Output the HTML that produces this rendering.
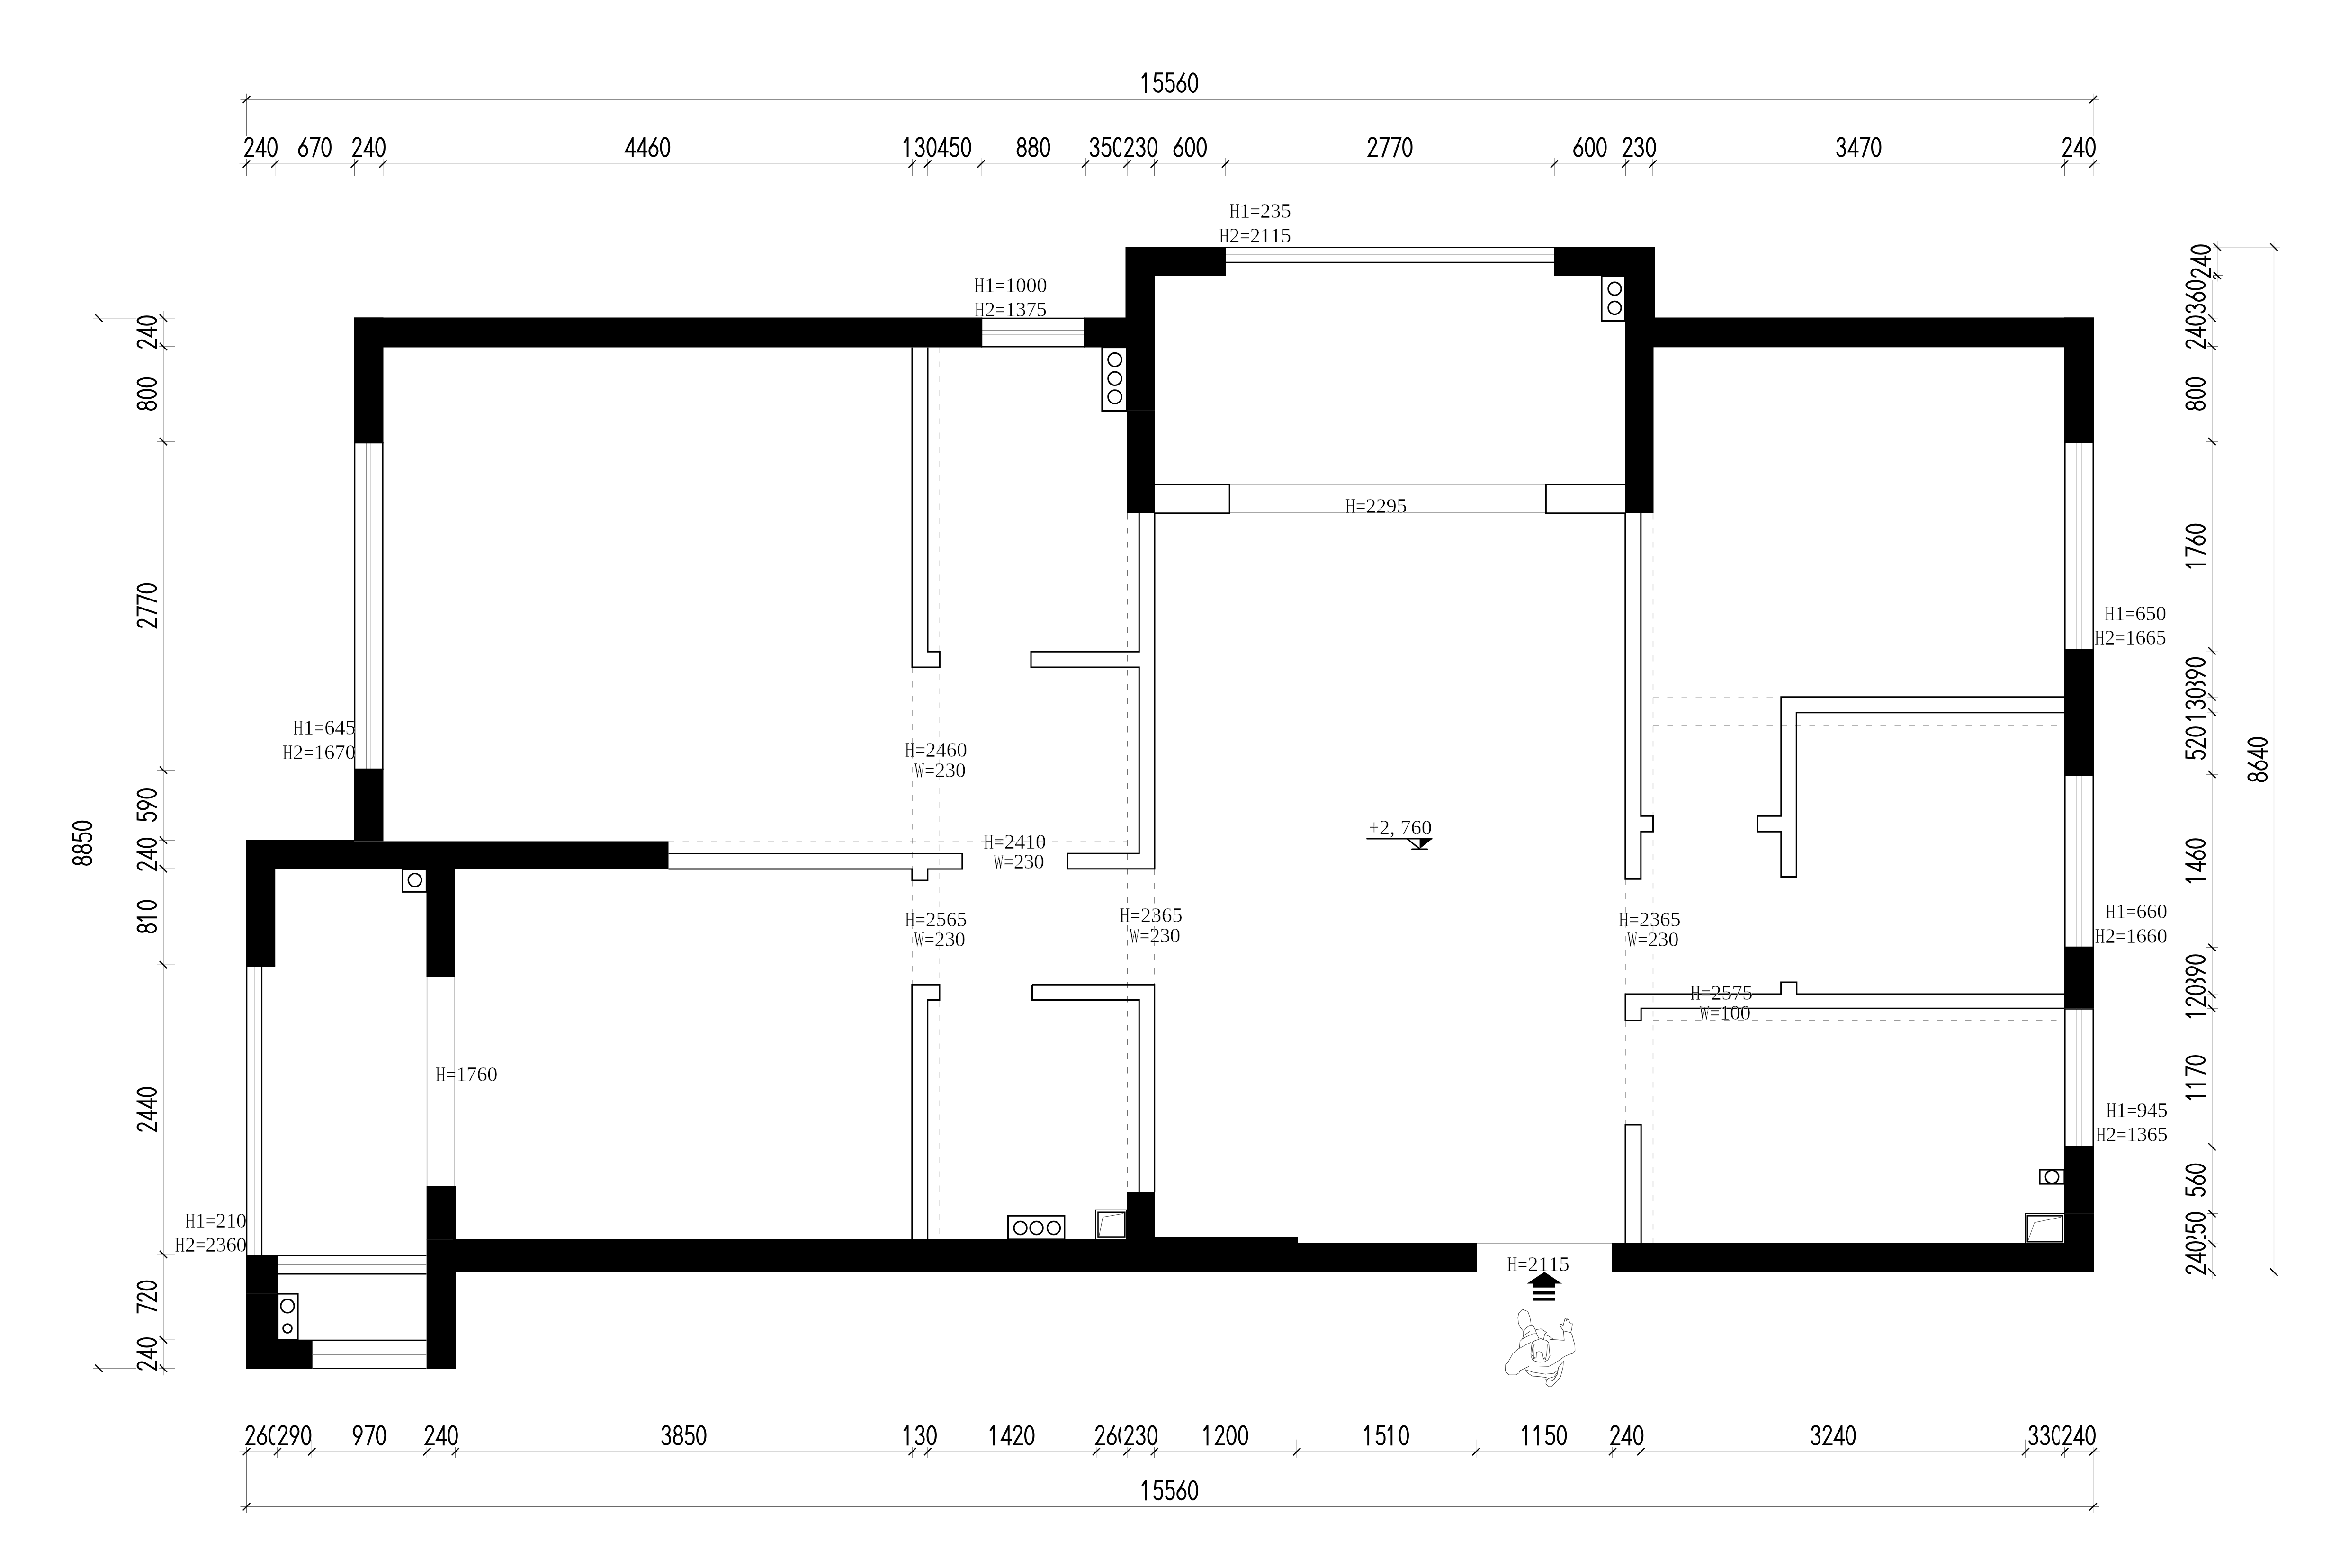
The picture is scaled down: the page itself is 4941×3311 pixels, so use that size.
<!DOCTYPE html><html><head><meta charset="utf-8"><style>html,body{margin:0;padding:0;background:#fff;overflow:hidden} svg{filter:grayscale(1)}</style></head><body><svg width="4941" height="3311" viewBox="0 0 4941 3311" style="display:block"><rect x="0" y="0" width="4941" height="3311" fill="#fff"/><rect x="0.5" y="0.5" width="4940" height="3310" fill="none" stroke="#666" stroke-width="1"/><g fill="none" stroke="#707070" stroke-width="1.2" stroke-dasharray="12.5 17.5">
<line x1="1926" y1="1409" x2="1926" y2="2079"/>
<line x1="1984.4" y1="733.5" x2="1984.4" y2="2617"/>
<line x1="2380.4" y1="1084" x2="2380.4" y2="2517"/>
<line x1="1411.5" y1="1777.3" x2="2380.4" y2="1777.3"/>
<line x1="2031.8" y1="1835" x2="2254.5" y2="1835"/>
<line x1="2437.8" y1="1835" x2="2437.8" y2="2079"/>
<line x1="3490.5" y1="1084" x2="3490.5" y2="2625"/>
<line x1="3432" y1="1856" x2="3432" y2="2375"/>
</g>
<g fill="none" stroke="#9a9a9a" stroke-width="1.3" stroke-dasharray="12.5 17.5">
<line x1="3490.5" y1="1471.8" x2="3760.8" y2="1471.8"/>
<line x1="3490.5" y1="1532" x2="4359" y2="1532"/>
<line x1="3490" y1="2154.6" x2="4359" y2="2154.6"/>
</g>
<g fill="#000">
<rect x="747.5" y="670.5" width="1324.5" height="63"/>
<rect x="2291" y="670.5" width="87" height="63"/>
<rect x="747.5" y="670.5" width="62" height="263.5"/>
<rect x="747.5" y="1625" width="62" height="151.5"/>
<rect x="519.5" y="1773.5" width="228.5" height="62.5"/>
<rect x="747.5" y="1776.5" width="664" height="59.5"/>
<rect x="2376.5" y="521" width="62.5" height="212"/>
<rect x="2379" y="733" width="60" height="351"/>
<rect x="2377" y="521" width="212" height="62"/>
<rect x="3281" y="521" width="213.5" height="61.5"/>
<rect x="3431" y="521" width="63.5" height="212"/>
<rect x="3431" y="733" width="60.5" height="351"/>
<rect x="3431" y="670.5" width="990" height="62.8"/>
<rect x="4359" y="670.5" width="62" height="262.8"/>
<rect x="4359" y="1373" width="62" height="263.3"/>
<rect x="4359" y="2001" width="62" height="128.6"/>
<rect x="4359" y="2422" width="62" height="264.5"/>
<rect x="3404" y="2625" width="1017" height="61.5"/>
<rect x="2740" y="2625" width="378.4" height="61.5"/>
<rect x="962" y="2617" width="1418" height="69.5"/>
<rect x="2380" y="2613" width="360" height="73.5"/>
<rect x="2379" y="2517" width="59" height="100"/>
<rect x="519.5" y="1773.5" width="61.7" height="265.5"/>
<rect x="519.6" y="2650" width="66.9" height="241"/>
<rect x="519.6" y="2829.5" width="140.1" height="61.5"/>
<rect x="900.5" y="1836" width="59.5" height="227"/>
<rect x="900.7" y="2504" width="61.5" height="387"/>
</g>
<g stroke="#303030" stroke-width="1">
<line x1="750" y1="732.5" x2="806.5" y2="732.5"/>
<line x1="2379" y1="732.5" x2="2439" y2="732.5"/>
<line x1="2379" y1="867" x2="2439" y2="867"/>
<line x1="3431" y1="732.5" x2="3492" y2="732.5"/>
<line x1="4359" y1="732.5" x2="4421" y2="732.5"/>
<line x1="4359" y1="2562" x2="4421" y2="2562"/>
<line x1="520.5" y1="2732" x2="586.5" y2="2732"/>
<line x1="520.5" y1="2829.5" x2="586.5" y2="2829.5"/>
<line x1="900.7" y1="2618" x2="957" y2="2618"/>
</g>
<g fill="none">
<line x1="2072" y1="672" x2="2291" y2="672" stroke="#000" stroke-width="2.6"/>
<line x1="2072" y1="732.2" x2="2291" y2="732.2" stroke="#000" stroke-width="2.6"/>
<line x1="2072" y1="697.3" x2="2291" y2="697.3" stroke="#8a8a8a" stroke-width="1.3"/>
<line x1="2072" y1="707.2" x2="2291" y2="707.2" stroke="#8a8a8a" stroke-width="1.3"/>
<line x1="2073" y1="670.5" x2="2073" y2="733.5" stroke="#000" stroke-width="2.4"/>
<line x1="2290" y1="670.5" x2="2290" y2="733.5" stroke="#000" stroke-width="2.4"/>
<line x1="749" y1="934" x2="749" y2="1625" stroke="#000" stroke-width="2.6"/>
<line x1="808.3" y1="934" x2="808.3" y2="1625" stroke="#000" stroke-width="2.6"/>
<line x1="773.4" y1="934" x2="773.4" y2="1625" stroke="#8a8a8a" stroke-width="1.3"/>
<line x1="783.3" y1="934" x2="783.3" y2="1625" stroke="#8a8a8a" stroke-width="1.3"/>
<line x1="747.5" y1="935" x2="809.5" y2="935" stroke="#000" stroke-width="2.4"/>
<line x1="747.5" y1="1624" x2="809.5" y2="1624" stroke="#000" stroke-width="2.4"/>
<line x1="2589" y1="522.6" x2="3281" y2="522.6" stroke="#000" stroke-width="2.6"/>
<line x1="2589" y1="554" x2="3281" y2="554" stroke="#000" stroke-width="2.6"/>
<line x1="2589" y1="537" x2="3281" y2="537" stroke="#a8a8a8" stroke-width="1.5"/>
<line x1="4360.3" y1="933.3" x2="4360.3" y2="1373" stroke="#000" stroke-width="2.6"/>
<line x1="4419.8" y1="933.3" x2="4419.8" y2="1373" stroke="#000" stroke-width="2.6"/>
<line x1="4385.2" y1="933.3" x2="4385.2" y2="1373" stroke="#a8a8a8" stroke-width="1.5"/>
<line x1="4394.8" y1="933.3" x2="4394.8" y2="1373" stroke="#a8a8a8" stroke-width="1.5"/>
<line x1="4359" y1="934.3" x2="4421" y2="934.3" stroke="#000" stroke-width="2.4"/>
<line x1="4359" y1="1372" x2="4421" y2="1372" stroke="#000" stroke-width="2.4"/>
<line x1="4360.3" y1="1636.3" x2="4360.3" y2="2001" stroke="#000" stroke-width="2.6"/>
<line x1="4419.8" y1="1636.3" x2="4419.8" y2="2001" stroke="#000" stroke-width="2.6"/>
<line x1="4385.2" y1="1636.3" x2="4385.2" y2="2001" stroke="#a8a8a8" stroke-width="1.5"/>
<line x1="4394.8" y1="1636.3" x2="4394.8" y2="2001" stroke="#a8a8a8" stroke-width="1.5"/>
<line x1="4359" y1="1637.3" x2="4421" y2="1637.3" stroke="#000" stroke-width="2.4"/>
<line x1="4359" y1="2000" x2="4421" y2="2000" stroke="#000" stroke-width="2.4"/>
<line x1="4360.3" y1="2129.6" x2="4360.3" y2="2422" stroke="#000" stroke-width="2.6"/>
<line x1="4419.8" y1="2129.6" x2="4419.8" y2="2422" stroke="#000" stroke-width="2.6"/>
<line x1="4385.2" y1="2129.6" x2="4385.2" y2="2422" stroke="#a8a8a8" stroke-width="1.5"/>
<line x1="4394.8" y1="2129.6" x2="4394.8" y2="2422" stroke="#a8a8a8" stroke-width="1.5"/>
<line x1="4359" y1="2130.6" x2="4421" y2="2130.6" stroke="#000" stroke-width="2.4"/>
<line x1="4359" y1="2421" x2="4421" y2="2421" stroke="#000" stroke-width="2.4"/>
<line x1="521" y1="2039" x2="521" y2="2650" stroke="#000" stroke-width="2.6"/>
<line x1="552.8" y1="2039" x2="552.8" y2="2650" stroke="#000" stroke-width="2.6"/>
<line x1="538.2" y1="2039" x2="538.2" y2="2650" stroke="#a8a8a8" stroke-width="1.5"/>
<line x1="519.5" y1="2040" x2="581.2" y2="2040" stroke="#000" stroke-width="2.4"/>
<line x1="586.5" y1="2651.2" x2="900.5" y2="2651.2" stroke="#000" stroke-width="2.6"/>
<line x1="586.5" y1="2690.3" x2="900.5" y2="2690.3" stroke="#000" stroke-width="2.6"/>
<line x1="586.5" y1="2670.5" x2="900.5" y2="2670.5" stroke="#8a8a8a" stroke-width="1.3"/>
<line x1="586.5" y1="2830" x2="900.5" y2="2830" stroke="#000" stroke-width="2.6"/>
<line x1="659.7" y1="2889.8" x2="900.5" y2="2889.8" stroke="#000" stroke-width="2.6"/>
<line x1="659.7" y1="2860.3" x2="900.5" y2="2860.3" stroke="#8a8a8a" stroke-width="1.3"/>
<line x1="901.6" y1="2063" x2="901.6" y2="2504" stroke="#8a8a8a" stroke-width="1.4"/>
<line x1="958.8" y1="2063" x2="958.8" y2="2504" stroke="#8a8a8a" stroke-width="1.4"/>
<line x1="2596" y1="1023" x2="3264.4" y2="1023" stroke="#a8a8a8" stroke-width="1.6"/>
<line x1="2596" y1="1083" x2="3264.4" y2="1083" stroke="#8a8a8a" stroke-width="1.4"/>
<line x1="3118.4" y1="2625.2" x2="3403.8" y2="2625.2" stroke="#a8a8a8" stroke-width="1.6"/>
<line x1="3118.4" y1="2686" x2="3403.8" y2="2686" stroke="#a8a8a8" stroke-width="1.6"/>
</g>
<g fill="none" stroke="#000" stroke-width="3" stroke-linejoin="miter">
<path d="M1926,733.5 V1409 H1984.4 V1376.2 H1959 V733.5"/>
<path d="M2405.3,1084 V1376.2 H2177 V1409 H2405.3 V1802.2 H2254.5 V1834.8 H2438 V1084"/>
<path d="M1411.5,1802.6 H2031.8 V1835 H1958.8 V1859 H1925.9 V1835 H1411.5"/>
<path d="M1925.8,2617 V2079.3 H1984 V2111.5 H1958.7 V2617"/>
<path d="M2179.5,2079.3 H2437.7 V2517 M2179.5,2079.3 V2111.5 H2405.3 V2517"/>
<path d="M3431.8,1084 V1856.2 H3464.8 V1756.2 H3490.5 V1723.3 H3464.8 V1084"/>
<path d="M4359,1471.8 H3760.8 V1723.3 H3710.5 V1756.2 H3760.8 V1851.4 H3793.3 V1504.7 H4359"/>
<path d="M4359,2099 H3793.8 V2074 H3760.6 V2099 H3432 V2154.6 H3465.2 V2129.2 H4359"/>
<path d="M3432,2625 V2375 H3465.2 V2625"/>
<path d="M2439,1022.8 H2596.2 V1083.8 H2439"/>
<path d="M3431,1022.8 H3264.4 V1083.8 H3431"/>
</g>
<g fill="#fff" stroke="#000" stroke-width="3.2">
<rect x="2327" y="733.5" width="52" height="133.9"/>
<circle cx="2354" cy="759.5" r="14.2"/>
<circle cx="2354" cy="799.3" r="14.2"/>
<circle cx="2354" cy="838" r="14.2"/>
<rect x="3382" y="582.5" width="49" height="95"/>
<circle cx="3409.5" cy="609.8" r="13.6"/>
<circle cx="3409.5" cy="650" r="13.6"/>
<rect x="850.4" y="1836" width="50.1" height="47.3"/>
<circle cx="876" cy="1858.3" r="13.8"/>
<rect x="586.5" y="2732" width="42.5" height="97.5"/>
<circle cx="607" cy="2757.8" r="14.2"/>
<circle cx="607" cy="2805" r="9.2"/>
<rect x="2128.5" y="2567.2" width="119.3" height="49.8"/>
<circle cx="2154.6" cy="2593" r="13.6"/>
<circle cx="2188.6" cy="2593" r="13.6"/>
<circle cx="2225" cy="2593" r="13.6"/>
<rect x="4307" y="2470" width="52" height="30"/>
<circle cx="4333" cy="2485" r="13.8"/>
</g>
<g fill="none" stroke="#000">
<rect x="2313.3" y="2554.8" width="65.7" height="62.2" stroke-width="2"/>
<rect x="2318.5" y="2559.8" width="56.8" height="52.8" stroke-width="2.6"/>
<polyline points="2320.4,2611.6 2328.7,2570 2372.2,2562.6" stroke-width="1" stroke="#333"/>
<rect x="4277" y="2562" width="82" height="63" stroke-width="2"/>
<rect x="4280.8" y="2567.3" width="74.7" height="54.9" stroke-width="2.6"/>
<polyline points="4283,2618 4295.8,2581.6 4352,2570" stroke-width="1" stroke="#333"/>
</g>
<g stroke="#000" stroke-linecap="round">
<line x1="2886.8" y1="1770.9" x2="3023" y2="1770.9" stroke-width="3.4"/>
<polygon points="2997.6,1770.9 3024.6,1770.9 2997.6,1792.5" fill="#000" stroke="none"/>
<line x1="2971.5" y1="1771.5" x2="2997.6" y2="1792.5" stroke-width="3"/>
<line x1="2981.5" y1="1793" x2="3013.7" y2="1793" stroke-width="3.2"/>
</g>
<g fill="#000">
<polygon points="3261.1,2685.8 3298.1,2710.6 3224.1,2710.6"/>
<rect x="3238" y="2710" width="46" height="8.7"/>
<rect x="3238" y="2726.8" width="46" height="6.6"/>
<rect x="3238" y="2741" width="46" height="5.6"/>
</g>
<g transform="translate(3160,2670) scale(0.17224)" fill="none" stroke="#333" stroke-width="6">
<path d="M330,820 L290,770 L268,720 L262,650 L272,598 L318,550 L385,578 L408,645 L420,705 L422,742"/>
<path d="M330,820 L330,885 L312,915"/>
<path d="M330,820 L370,775 L410,745 L445,745 L470,790 L492,850 L520,910"/>
<path d="M320,880 L410,820"/>
<path d="M480,800 L545,790 L612,832 L590,858 L575,925"/>
<path d="M290,940 L315,915 L360,890 L445,850 L490,848"/>
<path d="M288,940 L280,1025 L200,1090 L140,1200 L105,1235 L108,1310 L155,1355 L235,1355 L275,1330 L290,1300 L400,1248"/>
<path d="M280,1030 L350,990 L420,955"/>
<path d="M590,858 L640,880 L690,912"/>
<path d="M650,918 L830,930 L820,815 L910,835 L925,860 L960,990 L962,1060 L935,1090 L880,1108 L830,1130 L760,1180 L700,1220 L640,1250 L515,1245"/>
<path d="M820,815 L790,770 L775,738 L792,728 L815,755 L838,668 L852,665 L858,690 L870,668 L885,680 L895,705 L908,728 L930,728 L922,790 L910,835"/>
<path d="M350,1285 L385,1335 L440,1368 L520,1375 L600,1385 L640,1395 L705,1378 L750,1320 L760,1260 L820,1185"/>
<path d="M820,1185 L815,1260 L785,1378 L730,1440 L675,1500 L640,1497 L605,1465 L612,1420 L640,1395"/>
<path d="M355,1290 L440,1320 L600,1345 L700,1335 L748,1300 L748,1340 L700,1420 L612,1420"/>
<path d="M470,1185 L440,1165 L425,1130 L420,1100 L430,990 L440,955 L470,935 L520,918 L540,905 L560,920 L610,930 L640,960 L650,1080 L655,1120 L630,1170 L590,1192 L530,1200 Z"/>
<path d="M455,1160 L450,1030 L455,990 L470,975 M445,1000 L430,1110 L450,1130 L460,1160 L470,1140 L485,1150 L490,1075 L520,1068 L560,1078 L575,1160 L585,1140 L600,1165 L615,1100 L622,990 L640,975"/>
<path d="M600,1410 L690,1425 L748,1340"/>
</g>
<g style="font-family:&quot;Liberation Serif&quot;, serif" font-size="44" fill="#000" stroke="#fff" stroke-width="0.6" text-anchor="middle">
<text transform="translate(2068.1,617.3) scale(0.66,1)">H</text>
<text x="2090.1" y="617.3">1</text>
<text transform="translate(2112.1,617.3) scale(0.86,1)">=</text>
<text x="2134.1" y="617.3">1</text>
<text x="2156" y="617.3">0</text>
<text x="2178" y="617.3">0</text>
<text x="2200" y="617.3">0</text>
<text transform="translate(2068.6,668) scale(0.66,1)">H</text>
<text x="2090.4" y="668">2</text>
<text transform="translate(2112.2,668) scale(0.86,1)">=</text>
<text x="2133.9" y="668">1</text>
<text x="2155.7" y="668">3</text>
<text x="2177.5" y="668">7</text>
<text x="2199.3" y="668">5</text>
<text transform="translate(2607.1,460.3) scale(0.66,1)">H</text>
<text x="2628.8" y="460.3">1</text>
<text transform="translate(2650.5,460.3) scale(0.86,1)">=</text>
<text x="2672.1" y="460.3">2</text>
<text x="2693.8" y="460.3">3</text>
<text x="2715.5" y="460.3">5</text>
<text transform="translate(2585.1,512.2) scale(0.66,1)">H</text>
<text x="2606.8" y="512.2">2</text>
<text transform="translate(2628.6,512.2) scale(0.86,1)">=</text>
<text x="2650.3" y="512.2">2</text>
<text x="2672" y="512.2">1</text>
<text x="2693.8" y="512.2">1</text>
<text x="2715.5" y="512.2">5</text>
<text transform="translate(629.8,1551.3) scale(0.66,1)">H</text>
<text x="651.8" y="1551.3">1</text>
<text transform="translate(673.9,1551.3) scale(0.86,1)">=</text>
<text x="695.9" y="1551.3">6</text>
<text x="718" y="1551.3">4</text>
<text x="740" y="1551.3">5</text>
<text transform="translate(607.5,1602.6) scale(0.66,1)">H</text>
<text x="629.6" y="1602.6">2</text>
<text transform="translate(651.7,1602.6) scale(0.86,1)">=</text>
<text x="673.8" y="1602.6">1</text>
<text x="695.8" y="1602.6">6</text>
<text x="717.9" y="1602.6">7</text>
<text x="740" y="1602.6">0</text>
<text transform="translate(1921.3,1598.3) scale(0.66,1)">H</text>
<text transform="translate(1943.3,1598.3) scale(0.86,1)">=</text>
<text x="1965.3" y="1598.3">2</text>
<text x="1987.2" y="1598.3">4</text>
<text x="2009.2" y="1598.3">6</text>
<text x="2031.2" y="1598.3">0</text>
<text transform="translate(1941.4,1641.1) scale(0.5,1)">W</text>
<text transform="translate(1963.2,1641.1) scale(0.86,1)">=</text>
<text x="1985" y="1641.1">2</text>
<text x="2006.7" y="1641.1">3</text>
<text x="2028.5" y="1641.1">0</text>
<text transform="translate(2087.8,1791.5) scale(0.66,1)">H</text>
<text transform="translate(2109.8,1791.5) scale(0.86,1)">=</text>
<text x="2131.8" y="1791.5">2</text>
<text x="2153.7" y="1791.5">4</text>
<text x="2175.7" y="1791.5">1</text>
<text x="2197.7" y="1791.5">0</text>
<text transform="translate(2108.7,1833.6) scale(0.5,1)">W</text>
<text transform="translate(2130,1833.6) scale(0.86,1)">=</text>
<text x="2151.4" y="1833.6">2</text>
<text x="2172.7" y="1833.6">3</text>
<text x="2194" y="1833.6">0</text>
<text transform="translate(2851.6,1082.5) scale(0.66,1)">H</text>
<text transform="translate(2873.2,1082.5) scale(0.86,1)">=</text>
<text x="2894.8" y="1082.5">2</text>
<text x="2916.5" y="1082.5">2</text>
<text x="2938.1" y="1082.5">9</text>
<text x="2959.7" y="1082.5">5</text>
<text transform="translate(2901.4,1761.8) scale(0.85,1)">+</text>
<text x="2923.6" y="1761.8">2</text>
<text x="2940.1" y="1761.8">,</text>
<text x="2968" y="1761.8">7</text>
<text x="2990.2" y="1761.8">6</text>
<text x="3012.4" y="1761.8">0</text>
<text transform="translate(1921.6,1956.4) scale(0.66,1)">H</text>
<text transform="translate(1943.5,1956.4) scale(0.86,1)">=</text>
<text x="1965.4" y="1956.4">2</text>
<text x="1987.3" y="1956.4">5</text>
<text x="2009.2" y="1956.4">6</text>
<text x="2031.1" y="1956.4">5</text>
<text transform="translate(1940.9,1998.2) scale(0.5,1)">W</text>
<text transform="translate(1962.6,1998.2) scale(0.86,1)">=</text>
<text x="1984.2" y="1998.2">2</text>
<text x="2005.9" y="1998.2">3</text>
<text x="2027.6" y="1998.2">0</text>
<text transform="translate(2375.1,1946.8) scale(0.66,1)">H</text>
<text transform="translate(2397.3,1946.8) scale(0.86,1)">=</text>
<text x="2419.5" y="1946.8">2</text>
<text x="2441.6" y="1946.8">3</text>
<text x="2463.8" y="1946.8">6</text>
<text x="2486" y="1946.8">5</text>
<text transform="translate(2395.4,1990.2) scale(0.5,1)">W</text>
<text transform="translate(2416.9,1990.2) scale(0.86,1)">=</text>
<text x="2438.4" y="1990.2">2</text>
<text x="2459.9" y="1990.2">3</text>
<text x="2481.4" y="1990.2">0</text>
<text transform="translate(3428.4,1955.6) scale(0.66,1)">H</text>
<text transform="translate(3450.3,1955.6) scale(0.86,1)">=</text>
<text x="3472.2" y="1955.6">2</text>
<text x="3494.2" y="1955.6">3</text>
<text x="3516.1" y="1955.6">6</text>
<text x="3538" y="1955.6">5</text>
<text transform="translate(3446.7,1998) scale(0.5,1)">W</text>
<text transform="translate(3468.5,1998) scale(0.86,1)">=</text>
<text x="3490.2" y="1998">2</text>
<text x="3511.9" y="1998">3</text>
<text x="3533.7" y="1998">0</text>
<text transform="translate(3579.9,2110.7) scale(0.66,1)">H</text>
<text transform="translate(3601.9,2110.7) scale(0.86,1)">=</text>
<text x="3623.9" y="2110.7">2</text>
<text x="3645.9" y="2110.7">5</text>
<text x="3667.9" y="2110.7">7</text>
<text x="3689.9" y="2110.7">5</text>
<text transform="translate(3599.1,2153) scale(0.5,1)">W</text>
<text transform="translate(3620.8,2153) scale(0.86,1)">=</text>
<text x="3642.4" y="2153">1</text>
<text x="3664.1" y="2153">0</text>
<text x="3685.8" y="2153">0</text>
<text transform="translate(930.6,2282.8) scale(0.66,1)">H</text>
<text transform="translate(952.4,2282.8) scale(0.86,1)">=</text>
<text x="974.2" y="2282.8">1</text>
<text x="996.1" y="2282.8">7</text>
<text x="1017.9" y="2282.8">6</text>
<text x="1039.7" y="2282.8">0</text>
<text transform="translate(401.7,2591.9) scale(0.66,1)">H</text>
<text x="423.3" y="2591.9">1</text>
<text transform="translate(444.9,2591.9) scale(0.86,1)">=</text>
<text x="466.6" y="2591.9">2</text>
<text x="488.2" y="2591.9">1</text>
<text x="509.8" y="2591.9">0</text>
<text transform="translate(380.1,2643.2) scale(0.66,1)">H</text>
<text x="401.8" y="2643.2">2</text>
<text transform="translate(423.4,2643.2) scale(0.86,1)">=</text>
<text x="445.1" y="2643.2">2</text>
<text x="466.7" y="2643.2">3</text>
<text x="488.4" y="2643.2">6</text>
<text x="510" y="2643.2">0</text>
<text transform="translate(3192.9,2683.5) scale(0.66,1)">H</text>
<text transform="translate(3214.9,2683.5) scale(0.86,1)">=</text>
<text x="3236.9" y="2683.5">2</text>
<text x="3259" y="2683.5">1</text>
<text x="3281" y="2683.5">1</text>
<text x="3303" y="2683.5">5</text>
<text transform="translate(4454.4,1310.1) scale(0.66,1)">H</text>
<text x="4476.2" y="1310.1">1</text>
<text transform="translate(4497.9,1310.1) scale(0.86,1)">=</text>
<text x="4519.7" y="1310.1">6</text>
<text x="4541.4" y="1310.1">5</text>
<text x="4563.2" y="1310.1">0</text>
<text transform="translate(4433.5,1361) scale(0.66,1)">H</text>
<text x="4455.1" y="1361">2</text>
<text transform="translate(4476.7,1361) scale(0.86,1)">=</text>
<text x="4498.4" y="1361">1</text>
<text x="4520" y="1361">6</text>
<text x="4541.6" y="1361">6</text>
<text x="4563.2" y="1361">5</text>
<text transform="translate(4456.7,1939.1) scale(0.66,1)">H</text>
<text x="4478.4" y="1939.1">1</text>
<text transform="translate(4500.2,1939.1) scale(0.86,1)">=</text>
<text x="4521.9" y="1939.1">6</text>
<text x="4543.7" y="1939.1">6</text>
<text x="4565.4" y="1939.1">0</text>
<text transform="translate(4434.2,1991) scale(0.66,1)">H</text>
<text x="4456.1" y="1991">2</text>
<text transform="translate(4477.9,1991) scale(0.86,1)">=</text>
<text x="4499.8" y="1991">1</text>
<text x="4521.7" y="1991">6</text>
<text x="4543.5" y="1991">6</text>
<text x="4565.4" y="1991">0</text>
<text transform="translate(4458.1,2359.1) scale(0.66,1)">H</text>
<text x="4479.7" y="2359.1">1</text>
<text transform="translate(4501.3,2359.1) scale(0.86,1)">=</text>
<text x="4523" y="2359.1">9</text>
<text x="4544.6" y="2359.1">4</text>
<text x="4566.2" y="2359.1">5</text>
<text transform="translate(4436.5,2410.4) scale(0.66,1)">H</text>
<text x="4458.1" y="2410.4">2</text>
<text transform="translate(4479.7,2410.4) scale(0.86,1)">=</text>
<text x="4501.4" y="2410.4">1</text>
<text x="4523" y="2410.4">3</text>
<text x="4544.6" y="2410.4">6</text>
<text x="4566.2" y="2410.4">5</text>
</g>
<g stroke="#6a6a6a" stroke-width="1.1" fill="none">
<line x1="505.5" y1="346.2" x2="4434.7" y2="346.2"/>
<line x1="507.5" y1="210.1" x2="4432.7" y2="210.1"/>
<line x1="520.5" y1="197.8" x2="520.5" y2="371.6"/>
<line x1="580.6" y1="333.7" x2="580.6" y2="371.6"/>
<line x1="748.5" y1="333.7" x2="748.5" y2="371.6"/>
<line x1="808.7" y1="333.7" x2="808.7" y2="371.6"/>
<line x1="1926.3" y1="333.7" x2="1926.3" y2="371.6"/>
<line x1="1958.9" y1="333.7" x2="1958.9" y2="371.6"/>
<line x1="2071.7" y1="333.7" x2="2071.7" y2="371.6"/>
<line x1="2292.2" y1="333.7" x2="2292.2" y2="371.6"/>
<line x1="2379.9" y1="333.7" x2="2379.9" y2="371.6"/>
<line x1="2437.5" y1="333.7" x2="2437.5" y2="371.6"/>
<line x1="2587.9" y1="333.7" x2="2587.9" y2="371.6"/>
<line x1="3282" y1="333.7" x2="3282" y2="371.6"/>
<line x1="3432.4" y1="333.7" x2="3432.4" y2="371.6"/>
<line x1="3490" y1="333.7" x2="3490" y2="371.6"/>
<line x1="4359.5" y1="333.7" x2="4359.5" y2="371.6"/>
<line x1="4419.7" y1="197.8" x2="4419.7" y2="371.6"/>
<line x1="505.5" y1="3065.4" x2="4434.7" y2="3065.4"/>
<line x1="507.5" y1="3181.6" x2="4432.7" y2="3181.6"/>
<line x1="520.5" y1="3039.7" x2="520.5" y2="3194.4"/>
<line x1="585.7" y1="3039.7" x2="585.7" y2="3078.2"/>
<line x1="658.3" y1="3039.7" x2="658.3" y2="3078.2"/>
<line x1="901.4" y1="3039.7" x2="901.4" y2="3078.2"/>
<line x1="961.5" y1="3039.7" x2="961.5" y2="3078.2"/>
<line x1="1926.3" y1="3039.7" x2="1926.3" y2="3078.2"/>
<line x1="1958.9" y1="3039.7" x2="1958.9" y2="3078.2"/>
<line x1="2314.7" y1="3039.7" x2="2314.7" y2="3078.2"/>
<line x1="2379.9" y1="3039.7" x2="2379.9" y2="3078.2"/>
<line x1="2437.5" y1="3039.7" x2="2437.5" y2="3078.2"/>
<line x1="2738.2" y1="3039.7" x2="2738.2" y2="3078.2"/>
<line x1="3116.6" y1="3039.7" x2="3116.6" y2="3078.2"/>
<line x1="3404.8" y1="3039.7" x2="3404.8" y2="3078.2"/>
<line x1="3464.9" y1="3039.7" x2="3464.9" y2="3078.2"/>
<line x1="4276.8" y1="3039.7" x2="4276.8" y2="3078.2"/>
<line x1="4359.5" y1="3039.7" x2="4359.5" y2="3078.2"/>
<line x1="4419.7" y1="3039.7" x2="4419.7" y2="3194.4"/>
<line x1="344.9" y1="656.6" x2="344.9" y2="2904.3"/>
<line x1="208.8" y1="658.6" x2="208.8" y2="2902.3"/>
<line x1="196" y1="671.6" x2="370" y2="671.6"/>
<line x1="332" y1="731.7" x2="370" y2="731.7"/>
<line x1="332" y1="932.2" x2="370" y2="932.2"/>
<line x1="332" y1="1626.3" x2="370" y2="1626.3"/>
<line x1="332" y1="1774.2" x2="370" y2="1774.2"/>
<line x1="332" y1="1834.3" x2="370" y2="1834.3"/>
<line x1="332" y1="2037.3" x2="370" y2="2037.3"/>
<line x1="332" y1="2648.8" x2="370" y2="2648.8"/>
<line x1="332" y1="2829.2" x2="370" y2="2829.2"/>
<line x1="196" y1="2889.3" x2="370" y2="2889.3"/>
<line x1="4670.8" y1="567.6" x2="4670.8" y2="2701.3"/>
<line x1="4681.7" y1="508.7" x2="4681.7" y2="594.6"/>
<line x1="4801.5" y1="508.7" x2="4801.5" y2="2699.3"/>
<line x1="4646" y1="521.7" x2="4815" y2="521.7"/>
<line x1="4646" y1="581.6" x2="4694" y2="581.6"/>
<line x1="4658" y1="671.6" x2="4683" y2="671.6"/>
<line x1="4658" y1="731.4" x2="4683" y2="731.4"/>
<line x1="4658" y1="932.2" x2="4683" y2="932.2"/>
<line x1="4658" y1="1374.6" x2="4683" y2="1374.6"/>
<line x1="4658" y1="1471.8" x2="4683" y2="1471.8"/>
<line x1="4658" y1="1503.7" x2="4683" y2="1503.7"/>
<line x1="4658" y1="1635.2" x2="4683" y2="1635.2"/>
<line x1="4658" y1="2000.7" x2="4683" y2="2000.7"/>
<line x1="4658" y1="2100.3" x2="4683" y2="2100.3"/>
<line x1="4658" y1="2129.8" x2="4683" y2="2129.8"/>
<line x1="4658" y1="2421.6" x2="4683" y2="2421.6"/>
<line x1="4658" y1="2562.6" x2="4683" y2="2562.6"/>
<line x1="4658" y1="2626.4" x2="4683" y2="2626.4"/>
<line x1="4658" y1="2686.3" x2="4815" y2="2686.3"/>
</g>
<g stroke="#000" stroke-width="2.6">
<line x1="512.7" y1="217.9" x2="528.3" y2="202.3"/>
<line x1="512.7" y1="354" x2="528.3" y2="338.4"/>
<line x1="572.8" y1="354" x2="588.4" y2="338.4"/>
<line x1="740.7" y1="354" x2="756.3" y2="338.4"/>
<line x1="800.9" y1="354" x2="816.5" y2="338.4"/>
<line x1="1918.5" y1="354" x2="1934.1" y2="338.4"/>
<line x1="1951.1" y1="354" x2="1966.7" y2="338.4"/>
<line x1="2063.9" y1="354" x2="2079.5" y2="338.4"/>
<line x1="2284.4" y1="354" x2="2300" y2="338.4"/>
<line x1="2372.1" y1="354" x2="2387.7" y2="338.4"/>
<line x1="2429.7" y1="354" x2="2445.3" y2="338.4"/>
<line x1="2580.1" y1="354" x2="2595.7" y2="338.4"/>
<line x1="3274.2" y1="354" x2="3289.8" y2="338.4"/>
<line x1="3424.6" y1="354" x2="3440.2" y2="338.4"/>
<line x1="3482.2" y1="354" x2="3497.8" y2="338.4"/>
<line x1="4351.7" y1="354" x2="4367.3" y2="338.4"/>
<line x1="4411.9" y1="217.9" x2="4427.5" y2="202.3"/>
<line x1="4411.9" y1="354" x2="4427.5" y2="338.4"/>
<line x1="512.7" y1="3189.4" x2="528.3" y2="3173.8"/>
<line x1="512.7" y1="3073.2" x2="528.3" y2="3057.6"/>
<line x1="577.9" y1="3073.2" x2="593.5" y2="3057.6"/>
<line x1="650.5" y1="3073.2" x2="666.1" y2="3057.6"/>
<line x1="893.6" y1="3073.2" x2="909.2" y2="3057.6"/>
<line x1="953.7" y1="3073.2" x2="969.3" y2="3057.6"/>
<line x1="1918.5" y1="3073.2" x2="1934.1" y2="3057.6"/>
<line x1="1951.1" y1="3073.2" x2="1966.7" y2="3057.6"/>
<line x1="2306.9" y1="3073.2" x2="2322.5" y2="3057.6"/>
<line x1="2372.1" y1="3073.2" x2="2387.7" y2="3057.6"/>
<line x1="2429.7" y1="3073.2" x2="2445.3" y2="3057.6"/>
<line x1="2730.4" y1="3073.2" x2="2746" y2="3057.6"/>
<line x1="3108.8" y1="3073.2" x2="3124.4" y2="3057.6"/>
<line x1="3397" y1="3073.2" x2="3412.6" y2="3057.6"/>
<line x1="3457.1" y1="3073.2" x2="3472.7" y2="3057.6"/>
<line x1="4269" y1="3073.2" x2="4284.6" y2="3057.6"/>
<line x1="4351.7" y1="3073.2" x2="4367.3" y2="3057.6"/>
<line x1="4411.9" y1="3189.4" x2="4427.5" y2="3173.8"/>
<line x1="4411.9" y1="3073.2" x2="4427.5" y2="3057.6"/>
<line x1="201" y1="663.8" x2="216.6" y2="679.4"/>
<line x1="337.1" y1="663.8" x2="352.7" y2="679.4"/>
<line x1="337.1" y1="723.9" x2="352.7" y2="739.5"/>
<line x1="337.1" y1="924.4" x2="352.7" y2="940"/>
<line x1="337.1" y1="1618.5" x2="352.7" y2="1634.1"/>
<line x1="337.1" y1="1766.4" x2="352.7" y2="1782"/>
<line x1="337.1" y1="1826.5" x2="352.7" y2="1842.1"/>
<line x1="337.1" y1="2029.5" x2="352.7" y2="2045.1"/>
<line x1="337.1" y1="2641" x2="352.7" y2="2656.6"/>
<line x1="337.1" y1="2821.4" x2="352.7" y2="2837"/>
<line x1="201" y1="2881.5" x2="216.6" y2="2897.1"/>
<line x1="337.1" y1="2881.5" x2="352.7" y2="2897.1"/>
<line x1="4793.7" y1="513.9" x2="4809.3" y2="529.5"/>
<line x1="4673.9" y1="513.9" x2="4689.5" y2="529.5"/>
<line x1="4673.9" y1="573.8" x2="4689.5" y2="589.4"/>
<line x1="4663" y1="573.8" x2="4678.6" y2="589.4"/>
<line x1="4663" y1="663.8" x2="4678.6" y2="679.4"/>
<line x1="4663" y1="723.6" x2="4678.6" y2="739.2"/>
<line x1="4663" y1="924.4" x2="4678.6" y2="940"/>
<line x1="4663" y1="1366.8" x2="4678.6" y2="1382.4"/>
<line x1="4663" y1="1464" x2="4678.6" y2="1479.6"/>
<line x1="4663" y1="1495.9" x2="4678.6" y2="1511.5"/>
<line x1="4663" y1="1627.4" x2="4678.6" y2="1643"/>
<line x1="4663" y1="1992.9" x2="4678.6" y2="2008.5"/>
<line x1="4663" y1="2092.5" x2="4678.6" y2="2108.1"/>
<line x1="4663" y1="2122" x2="4678.6" y2="2137.6"/>
<line x1="4663" y1="2413.8" x2="4678.6" y2="2429.4"/>
<line x1="4663" y1="2554.8" x2="4678.6" y2="2570.4"/>
<line x1="4663" y1="2618.6" x2="4678.6" y2="2634.2"/>
<line x1="4793.7" y1="2678.5" x2="4809.3" y2="2694.1"/>
<line x1="4663" y1="2678.5" x2="4678.6" y2="2694.1"/>
</g>
<defs>
<path id="g0" d="M3.5,21.6 A8.8,19.5 0 1,1 21.1,21.6 A8.8,19.5 0 1,1 3.5,21.6 Z"/>
<path id="g1" d="M10.9,0.3 V43 M3.2,12 L10.9,1.2"/>
<path id="g2" d="M4.3,12 C4.9,5.8 8.2,2.1 12.4,2.1 C17,2.1 19.8,5.6 19.8,10.6 C19.8,14.8 17.8,18.3 14.8,22.6 L4.0,40.9 L23.2,40.9"/>
<path id="g3" d="M4.3,11.3 C5.2,5.3 8.4,2.1 12.2,2.1 C16.6,2.1 19.2,5.6 19.2,10.2 C19.2,15.6 15.8,19.9 10.4,19.9 C16.4,19.9 20.4,24.2 20.4,30.2 C20.4,36.6 16.8,40.9 12.1,40.9 C7.7,40.9 4.6,37.7 3.6,32.4"/>
<path id="g4" d="M17.6,0 V43 M17.6,2.4 L3.2,31.2 H24.3"/>
<path id="g5" d="M22.2,2.1 H6.8 L5.1,20.6 C6.8,17.6 9.6,15.9 12.9,15.9 C17.8,15.9 20.9,20.6 20.9,28.3 C20.9,36.1 17.3,40.9 12.5,40.9 C7.9,40.9 4.7,37.6 3.6,32.6"/>
<path id="g6" d="M18.2,0.8 L5.6,24.8 M3.7,29.5 A8.7,11.4 0 1,0 21.1,29.5 A8.7,11.4 0 1,0 3.7,29.5 Z"/>
<path id="g7" d="M2.6,2.1 H22.2 L8.6,43"/>
<path id="g8" d="M4.9,11.3 A7.4,9.2 0 1,0 19.7,11.3 A7.4,9.2 0 1,0 4.9,11.3 Z M3.6,30.3 A8.7,10.6 0 1,0 21,30.3 A8.7,10.6 0 1,0 3.6,30.3 Z"/>
<path id="g9" d="M3.8,13.5 A8.5,11.4 0 1,0 20.8,13.5 A8.5,11.4 0 1,0 3.8,13.5 Z M20.4,17.5 L7.4,42.5"/>
</defs>
<g fill="none" stroke="#000" stroke-width="3.9" stroke-linecap="butt">
<g transform="translate(550.6,331.8)"><rect x="-40.9" y="-44" width="75.8" height="48" fill="#fff" stroke="none"/><use href="#g2" x="-36.9" y="-42.7"/><use href="#g4" x="-12.3" y="-42.7"/><use href="#g0" x="12.3" y="-42.7"/></g>
<g transform="translate(664.6,331.8)"><rect x="-37.9" y="-44" width="72.8" height="48" fill="#fff" stroke="none"/><use href="#g6" x="-36.9" y="-42.7"/><use href="#g7" x="-12.3" y="-42.7"/><use href="#g0" x="12.3" y="-42.7"/></g>
<g transform="translate(778.6,331.8)"><rect x="-40.9" y="-44" width="75.8" height="48" fill="#fff" stroke="none"/><use href="#g2" x="-36.9" y="-42.7"/><use href="#g4" x="-12.3" y="-42.7"/><use href="#g0" x="12.3" y="-42.7"/></g>
<g transform="translate(1367.5,331.8)"><rect x="-50.2" y="-44" width="97.4" height="48" fill="#fff" stroke="none"/><use href="#g4" x="-49.2" y="-42.7"/><use href="#g4" x="-24.6" y="-42.7"/><use href="#g6" x="0" y="-42.7"/><use href="#g0" x="24.6" y="-42.7"/></g>
<g transform="translate(1942.6,331.8)"><rect x="-37.9" y="-44" width="72.8" height="48" fill="#fff" stroke="none"/><use href="#g1" x="-36.9" y="-42.7"/><use href="#g3" x="-12.3" y="-42.7"/><use href="#g0" x="12.3" y="-42.7"/></g>
<g transform="translate(2015.3,331.8)"><rect x="-37.9" y="-44" width="72.8" height="48" fill="#fff" stroke="none"/><use href="#g4" x="-36.9" y="-42.7"/><use href="#g5" x="-12.3" y="-42.7"/><use href="#g0" x="12.3" y="-42.7"/></g>
<g transform="translate(2181.9,331.8)"><rect x="-37.9" y="-44" width="72.8" height="48" fill="#fff" stroke="none"/><use href="#g8" x="-36.9" y="-42.7"/><use href="#g8" x="-12.3" y="-42.7"/><use href="#g0" x="12.3" y="-42.7"/></g>
<g transform="translate(2336,331.8)"><rect x="-37.9" y="-44" width="72.8" height="48" fill="#fff" stroke="none"/><use href="#g3" x="-36.9" y="-42.7"/><use href="#g5" x="-12.3" y="-42.7"/><use href="#g0" x="12.3" y="-42.7"/></g>
<g transform="translate(2408.7,331.8)"><rect x="-40.9" y="-44" width="75.8" height="48" fill="#fff" stroke="none"/><use href="#g2" x="-36.9" y="-42.7"/><use href="#g3" x="-12.3" y="-42.7"/><use href="#g0" x="12.3" y="-42.7"/></g>
<g transform="translate(2512.7,331.8)"><rect x="-37.9" y="-44" width="72.8" height="48" fill="#fff" stroke="none"/><use href="#g6" x="-36.9" y="-42.7"/><use href="#g0" x="-12.3" y="-42.7"/><use href="#g0" x="12.3" y="-42.7"/></g>
<g transform="translate(2934.9,331.8)"><rect x="-53.2" y="-44" width="100.4" height="48" fill="#fff" stroke="none"/><use href="#g2" x="-49.2" y="-42.7"/><use href="#g7" x="-24.6" y="-42.7"/><use href="#g7" x="0" y="-42.7"/><use href="#g0" x="24.6" y="-42.7"/></g>
<g transform="translate(3357.2,331.8)"><rect x="-37.9" y="-44" width="72.8" height="48" fill="#fff" stroke="none"/><use href="#g6" x="-36.9" y="-42.7"/><use href="#g0" x="-12.3" y="-42.7"/><use href="#g0" x="12.3" y="-42.7"/></g>
<g transform="translate(3461.2,331.8)"><rect x="-40.9" y="-44" width="75.8" height="48" fill="#fff" stroke="none"/><use href="#g2" x="-36.9" y="-42.7"/><use href="#g3" x="-12.3" y="-42.7"/><use href="#g0" x="12.3" y="-42.7"/></g>
<g transform="translate(3924.8,331.8)"><rect x="-50.2" y="-44" width="97.4" height="48" fill="#fff" stroke="none"/><use href="#g3" x="-49.2" y="-42.7"/><use href="#g4" x="-24.6" y="-42.7"/><use href="#g7" x="0" y="-42.7"/><use href="#g0" x="24.6" y="-42.7"/></g>
<g transform="translate(4389.6,331.8)"><rect x="-40.9" y="-44" width="75.8" height="48" fill="#fff" stroke="none"/><use href="#g2" x="-36.9" y="-42.7"/><use href="#g4" x="-12.3" y="-42.7"/><use href="#g0" x="12.3" y="-42.7"/></g>
<g transform="translate(2470.1,195.8)"><rect x="-62.5" y="-44" width="122" height="48" fill="#fff" stroke="none"/><use href="#g1" x="-61.5" y="-42.7"/><use href="#g5" x="-36.9" y="-42.7"/><use href="#g5" x="-12.3" y="-42.7"/><use href="#g6" x="12.3" y="-42.7"/><use href="#g0" x="36.9" y="-42.7"/></g>
<g transform="translate(553.1,3051.9)"><rect x="-40.9" y="-44" width="75.8" height="48" fill="#fff" stroke="none"/><use href="#g2" x="-36.9" y="-42.7"/><use href="#g6" x="-12.3" y="-42.7"/><use href="#g0" x="12.3" y="-42.7"/></g>
<g transform="translate(622,3051.9)"><rect x="-40.9" y="-44" width="75.8" height="48" fill="#fff" stroke="none"/><use href="#g2" x="-36.9" y="-42.7"/><use href="#g9" x="-12.3" y="-42.7"/><use href="#g0" x="12.3" y="-42.7"/></g>
<g transform="translate(779.9,3051.9)"><rect x="-37.9" y="-44" width="72.8" height="48" fill="#fff" stroke="none"/><use href="#g9" x="-36.9" y="-42.7"/><use href="#g7" x="-12.3" y="-42.7"/><use href="#g0" x="12.3" y="-42.7"/></g>
<g transform="translate(931.5,3051.9)"><rect x="-40.9" y="-44" width="75.8" height="48" fill="#fff" stroke="none"/><use href="#g2" x="-36.9" y="-42.7"/><use href="#g4" x="-12.3" y="-42.7"/><use href="#g0" x="12.3" y="-42.7"/></g>
<g transform="translate(1443.9,3051.9)"><rect x="-50.2" y="-44" width="97.4" height="48" fill="#fff" stroke="none"/><use href="#g3" x="-49.2" y="-42.7"/><use href="#g8" x="-24.6" y="-42.7"/><use href="#g5" x="0" y="-42.7"/><use href="#g0" x="24.6" y="-42.7"/></g>
<g transform="translate(1942.6,3051.9)"><rect x="-37.9" y="-44" width="72.8" height="48" fill="#fff" stroke="none"/><use href="#g1" x="-36.9" y="-42.7"/><use href="#g3" x="-12.3" y="-42.7"/><use href="#g0" x="12.3" y="-42.7"/></g>
<g transform="translate(2136.8,3051.9)"><rect x="-50.2" y="-44" width="97.4" height="48" fill="#fff" stroke="none"/><use href="#g1" x="-49.2" y="-42.7"/><use href="#g4" x="-24.6" y="-42.7"/><use href="#g2" x="0" y="-42.7"/><use href="#g0" x="24.6" y="-42.7"/></g>
<g transform="translate(2347.3,3051.9)"><rect x="-40.9" y="-44" width="75.8" height="48" fill="#fff" stroke="none"/><use href="#g2" x="-36.9" y="-42.7"/><use href="#g6" x="-12.3" y="-42.7"/><use href="#g0" x="12.3" y="-42.7"/></g>
<g transform="translate(2408.7,3051.9)"><rect x="-40.9" y="-44" width="75.8" height="48" fill="#fff" stroke="none"/><use href="#g2" x="-36.9" y="-42.7"/><use href="#g3" x="-12.3" y="-42.7"/><use href="#g0" x="12.3" y="-42.7"/></g>
<g transform="translate(2587.9,3051.9)"><rect x="-50.2" y="-44" width="97.4" height="48" fill="#fff" stroke="none"/><use href="#g1" x="-49.2" y="-42.7"/><use href="#g2" x="-24.6" y="-42.7"/><use href="#g0" x="0" y="-42.7"/><use href="#g0" x="24.6" y="-42.7"/></g>
<g transform="translate(2927.4,3051.9)"><rect x="-50.2" y="-44" width="97.4" height="48" fill="#fff" stroke="none"/><use href="#g1" x="-49.2" y="-42.7"/><use href="#g5" x="-24.6" y="-42.7"/><use href="#g1" x="0" y="-42.7"/><use href="#g0" x="24.6" y="-42.7"/></g>
<g transform="translate(3260.7,3051.9)"><rect x="-50.2" y="-44" width="97.4" height="48" fill="#fff" stroke="none"/><use href="#g1" x="-49.2" y="-42.7"/><use href="#g1" x="-24.6" y="-42.7"/><use href="#g5" x="0" y="-42.7"/><use href="#g0" x="24.6" y="-42.7"/></g>
<g transform="translate(3434.9,3051.9)"><rect x="-40.9" y="-44" width="75.8" height="48" fill="#fff" stroke="none"/><use href="#g2" x="-36.9" y="-42.7"/><use href="#g4" x="-12.3" y="-42.7"/><use href="#g0" x="12.3" y="-42.7"/></g>
<g transform="translate(3870.9,3051.9)"><rect x="-50.2" y="-44" width="97.4" height="48" fill="#fff" stroke="none"/><use href="#g3" x="-49.2" y="-42.7"/><use href="#g2" x="-24.6" y="-42.7"/><use href="#g4" x="0" y="-42.7"/><use href="#g0" x="24.6" y="-42.7"/></g>
<g transform="translate(4318.2,3051.9)"><rect x="-37.9" y="-44" width="72.8" height="48" fill="#fff" stroke="none"/><use href="#g3" x="-36.9" y="-42.7"/><use href="#g3" x="-12.3" y="-42.7"/><use href="#g0" x="12.3" y="-42.7"/></g>
<g transform="translate(4389.6,3051.9)"><rect x="-40.9" y="-44" width="75.8" height="48" fill="#fff" stroke="none"/><use href="#g2" x="-36.9" y="-42.7"/><use href="#g4" x="-12.3" y="-42.7"/><use href="#g0" x="12.3" y="-42.7"/></g>
<g transform="translate(2470.1,3168)"><rect x="-62.5" y="-44" width="122" height="48" fill="#fff" stroke="none"/><use href="#g1" x="-61.5" y="-42.7"/><use href="#g5" x="-36.9" y="-42.7"/><use href="#g5" x="-12.3" y="-42.7"/><use href="#g6" x="12.3" y="-42.7"/><use href="#g0" x="36.9" y="-42.7"/></g>
<g transform="translate(331.2,701.7) rotate(-90)"><rect x="-39.9" y="-44" width="79.8" height="48" fill="#fff" stroke="none"/><use href="#g2" x="-36.9" y="-42.7"/><use href="#g4" x="-12.3" y="-42.7"/><use href="#g0" x="12.3" y="-42.7"/></g>
<g transform="translate(331.2,832) rotate(-90)"><rect x="-39.9" y="-44" width="79.8" height="48" fill="#fff" stroke="none"/><use href="#g8" x="-36.9" y="-42.7"/><use href="#g0" x="-12.3" y="-42.7"/><use href="#g0" x="12.3" y="-42.7"/></g>
<g transform="translate(331.2,1279.3) rotate(-90)"><rect x="-52.2" y="-44" width="104.4" height="48" fill="#fff" stroke="none"/><use href="#g2" x="-49.2" y="-42.7"/><use href="#g7" x="-24.6" y="-42.7"/><use href="#g7" x="0" y="-42.7"/><use href="#g0" x="24.6" y="-42.7"/></g>
<g transform="translate(331.2,1700.3) rotate(-90)"><rect x="-39.9" y="-44" width="79.8" height="48" fill="#fff" stroke="none"/><use href="#g5" x="-36.9" y="-42.7"/><use href="#g9" x="-12.3" y="-42.7"/><use href="#g0" x="12.3" y="-42.7"/></g>
<g transform="translate(331.2,1804.3) rotate(-90)"><rect x="-39.9" y="-44" width="79.8" height="48" fill="#fff" stroke="none"/><use href="#g2" x="-36.9" y="-42.7"/><use href="#g4" x="-12.3" y="-42.7"/><use href="#g0" x="12.3" y="-42.7"/></g>
<g transform="translate(331.2,1935.8) rotate(-90)"><rect x="-39.9" y="-44" width="79.8" height="48" fill="#fff" stroke="none"/><use href="#g8" x="-36.9" y="-42.7"/><use href="#g1" x="-12.3" y="-42.7"/><use href="#g0" x="12.3" y="-42.7"/></g>
<g transform="translate(331.2,2343) rotate(-90)"><rect x="-52.2" y="-44" width="104.4" height="48" fill="#fff" stroke="none"/><use href="#g2" x="-49.2" y="-42.7"/><use href="#g4" x="-24.6" y="-42.7"/><use href="#g4" x="0" y="-42.7"/><use href="#g0" x="24.6" y="-42.7"/></g>
<g transform="translate(331.2,2739) rotate(-90)"><rect x="-39.9" y="-44" width="79.8" height="48" fill="#fff" stroke="none"/><use href="#g7" x="-36.9" y="-42.7"/><use href="#g2" x="-12.3" y="-42.7"/><use href="#g0" x="12.3" y="-42.7"/></g>
<g transform="translate(331.2,2859.3) rotate(-90)"><rect x="-39.9" y="-44" width="79.8" height="48" fill="#fff" stroke="none"/><use href="#g2" x="-36.9" y="-42.7"/><use href="#g4" x="-12.3" y="-42.7"/><use href="#g0" x="12.3" y="-42.7"/></g>
<g transform="translate(194.8,1780.5) rotate(-90)"><rect x="-52.2" y="-44" width="104.4" height="48" fill="#fff" stroke="none"/><use href="#g8" x="-49.2" y="-42.7"/><use href="#g8" x="-24.6" y="-42.7"/><use href="#g5" x="0" y="-42.7"/><use href="#g0" x="24.6" y="-42.7"/></g>
<g transform="translate(4668,551.7) rotate(-90)"><rect x="-39.9" y="-44" width="79.8" height="48" fill="#fff" stroke="none"/><use href="#g2" x="-36.9" y="-42.7"/><use href="#g4" x="-12.3" y="-42.7"/><use href="#g0" x="12.3" y="-42.7"/></g>
<g transform="translate(4657,626.6) rotate(-90)"><rect x="-39.9" y="-44" width="79.8" height="48" fill="#fff" stroke="none"/><use href="#g3" x="-36.9" y="-42.7"/><use href="#g6" x="-12.3" y="-42.7"/><use href="#g0" x="12.3" y="-42.7"/></g>
<g transform="translate(4657,701.5) rotate(-90)"><rect x="-39.9" y="-44" width="79.8" height="48" fill="#fff" stroke="none"/><use href="#g2" x="-36.9" y="-42.7"/><use href="#g4" x="-12.3" y="-42.7"/><use href="#g0" x="12.3" y="-42.7"/></g>
<g transform="translate(4657,831.8) rotate(-90)"><rect x="-39.9" y="-44" width="79.8" height="48" fill="#fff" stroke="none"/><use href="#g8" x="-36.9" y="-42.7"/><use href="#g0" x="-12.3" y="-42.7"/><use href="#g0" x="12.3" y="-42.7"/></g>
<g transform="translate(4657,1153.4) rotate(-90)"><rect x="-52.2" y="-44" width="104.4" height="48" fill="#fff" stroke="none"/><use href="#g1" x="-49.2" y="-42.7"/><use href="#g7" x="-24.6" y="-42.7"/><use href="#g6" x="0" y="-42.7"/><use href="#g0" x="24.6" y="-42.7"/></g>
<g transform="translate(4657,1423.2) rotate(-90)"><rect x="-39.9" y="-44" width="79.8" height="48" fill="#fff" stroke="none"/><use href="#g3" x="-36.9" y="-42.7"/><use href="#g9" x="-12.3" y="-42.7"/><use href="#g0" x="12.3" y="-42.7"/></g>
<g transform="translate(4657,1487.8) rotate(-90)"><rect x="-39.9" y="-44" width="79.8" height="48" fill="#fff" stroke="none"/><use href="#g1" x="-36.9" y="-42.7"/><use href="#g3" x="-12.3" y="-42.7"/><use href="#g0" x="12.3" y="-42.7"/></g>
<g transform="translate(4657,1569.5) rotate(-90)"><rect x="-39.9" y="-44" width="79.8" height="48" fill="#fff" stroke="none"/><use href="#g5" x="-36.9" y="-42.7"/><use href="#g2" x="-12.3" y="-42.7"/><use href="#g0" x="12.3" y="-42.7"/></g>
<g transform="translate(4657,1818) rotate(-90)"><rect x="-52.2" y="-44" width="104.4" height="48" fill="#fff" stroke="none"/><use href="#g1" x="-49.2" y="-42.7"/><use href="#g4" x="-24.6" y="-42.7"/><use href="#g6" x="0" y="-42.7"/><use href="#g0" x="24.6" y="-42.7"/></g>
<g transform="translate(4657,2050.5) rotate(-90)"><rect x="-39.9" y="-44" width="79.8" height="48" fill="#fff" stroke="none"/><use href="#g3" x="-36.9" y="-42.7"/><use href="#g9" x="-12.3" y="-42.7"/><use href="#g0" x="12.3" y="-42.7"/></g>
<g transform="translate(4657,2115.1) rotate(-90)"><rect x="-39.9" y="-44" width="79.8" height="48" fill="#fff" stroke="none"/><use href="#g1" x="-36.9" y="-42.7"/><use href="#g2" x="-12.3" y="-42.7"/><use href="#g0" x="12.3" y="-42.7"/></g>
<g transform="translate(4657,2275.7) rotate(-90)"><rect x="-52.2" y="-44" width="104.4" height="48" fill="#fff" stroke="none"/><use href="#g1" x="-49.2" y="-42.7"/><use href="#g1" x="-24.6" y="-42.7"/><use href="#g7" x="0" y="-42.7"/><use href="#g0" x="24.6" y="-42.7"/></g>
<g transform="translate(4657,2492.1) rotate(-90)"><rect x="-39.9" y="-44" width="79.8" height="48" fill="#fff" stroke="none"/><use href="#g5" x="-36.9" y="-42.7"/><use href="#g6" x="-12.3" y="-42.7"/><use href="#g0" x="12.3" y="-42.7"/></g>
<g transform="translate(4657,2594.5) rotate(-90)"><rect x="-39.9" y="-44" width="79.8" height="48" fill="#fff" stroke="none"/><use href="#g2" x="-36.9" y="-42.7"/><use href="#g5" x="-12.3" y="-42.7"/><use href="#g0" x="12.3" y="-42.7"/></g>
<g transform="translate(4657,2656.4) rotate(-90)"><rect x="-39.9" y="-44" width="79.8" height="48" fill="#fff" stroke="none"/><use href="#g2" x="-36.9" y="-42.7"/><use href="#g4" x="-12.3" y="-42.7"/><use href="#g0" x="12.3" y="-42.7"/></g>
<g transform="translate(4788,1604) rotate(-90)"><rect x="-52.2" y="-44" width="104.4" height="48" fill="#fff" stroke="none"/><use href="#g8" x="-49.2" y="-42.7"/><use href="#g6" x="-24.6" y="-42.7"/><use href="#g4" x="0" y="-42.7"/><use href="#g0" x="24.6" y="-42.7"/></g>
</g></svg></body></html>
